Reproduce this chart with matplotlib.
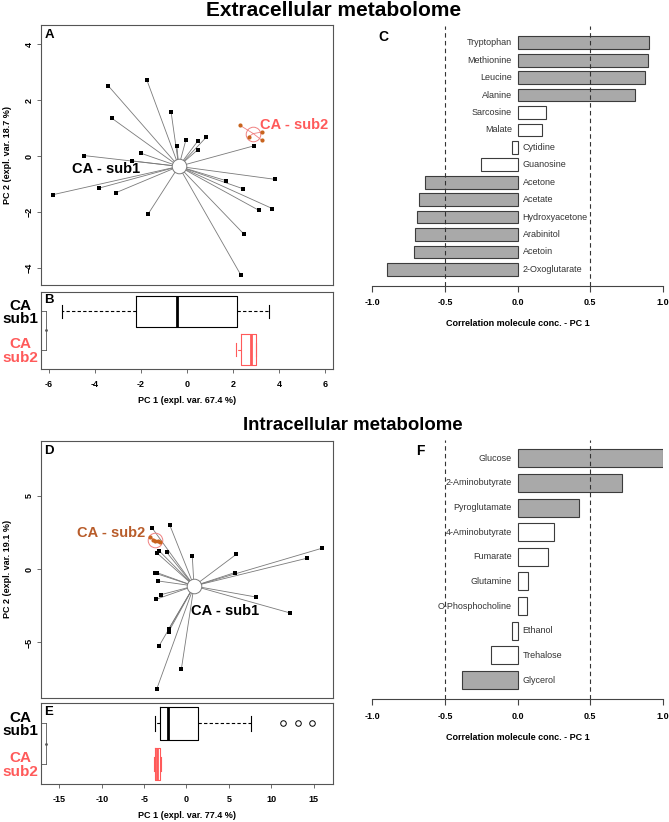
import numpy as np
import matplotlib
matplotlib.use("Agg")
import matplotlib.pyplot as plt

plt.rcParams['font.family'] = ['Liberation Sans', 'DejaVu Sans']

# ---- extracellular PCA scores (PC1, PC2) ----
ext_sub1_pc1 = [-5.83, -4.47, -3.80, -3.42, -3.25, -3.09, -2.37, -1.98, -1.73, -1.68, -0.68, -0.43,
                -0.04, 0.48, 0.48, 0.84, 1.72, 2.46, 2.49, 2.36, 2.93, 3.12, 3.71, 3.84]
ext_sub1_pc2 = [-1.38, 0.02, -1.14, 2.52, 1.35, -1.31, -0.17, 0.10, 2.71, -2.07, 1.57, 0.37,
                0.57, 0.54, 0.23, 0.67, -0.88, -1.17, -2.79, -4.26, 0.37, -1.93, -1.87, -0.83]
ext_sub2_pc1 = [2.31, 2.70, 3.27, 3.27]
ext_sub2_pc2 = [1.10, 0.70, 0.86, 0.56]

# boxplot summary of PC1
ext_box_sub1 = dict(whislo=-5.42, q1=-2.21, med=-0.43, q3=2.18, whishi=3.56, fliers=[])
ext_box_sub2 = dict(whislo=2.15, q1=2.36, med=2.78, q3=3.00, whishi=3.02, fliers=[])

# ---- intracellular PCA scores ----
int_sub1_pc1 = [-4.03, -1.98, -3.44, -3.24, -2.34, 0.68, 5.87, 15.94, 14.17, 5.68, 1.32, 8.16,
                12.20, -3.68, -3.48, -3.32, -2.97, -3.60, -2.10, -2.10, -3.24, -0.61, -3.51]
int_sub1_pc2 = [2.80, 3.03, 1.09, 1.27, 1.16, 0.93, 1.02, 1.43, 0.75, -0.23, -0.98, -1.89,
                -2.98, -0.27, -0.23, -0.80, -1.73, -2.05, -4.08, -4.26, -5.24, -6.83, -8.18]
int_sub2_pc1 = [-4.30, -3.99, -3.68, -3.40, -3.13]
int_sub2_pc2 = [2.19, 2.00, 1.95, 1.93, 1.86]

int_box_sub1 = dict(whislo=-3.68, q1=-3.16, med=-2.15, q3=1.36, whishi=7.60, fliers=[11.34, 13.18, 14.83])
int_box_sub2 = dict(whislo=-3.85, q1=-3.70, med=-3.45, q3=-3.10, whishi=-2.95, fliers=[])

# ---- correlations with PC1 ----
ext_names = ["Tryptophan", "Methionine", "Leucine", "Alanine", "Sarcosine", "Malate", "Cytidine",
             "Guanosine", "Acetone", "Acetate", "Hydroxyacetone", "Arabinitol", "Acetoin", "2-Oxoglutarate"]
ext_corr = [0.905, 0.90, 0.875, 0.806, 0.195, 0.172, -0.037, -0.248, -0.634, -0.675, -0.691, -0.705, -0.716, -0.898]
ext_sig = [1, 1, 1, 1, 0, 0, 0, 0, 1, 1, 1, 1, 1, 1]

int_names = ["Glucose", "2-Aminobutyrate", "Pyroglutamate", "4-Aminobutyrate", "Fumarate", "Glutamine",
             "O-Phosphocholine", "Ethanol", "Trehalose", "Glycerol"]
int_corr = [1.0, 0.719, 0.422, 0.248, 0.207, 0.069, 0.062, -0.041, -0.181, -0.383]
int_sig = [1, 1, 1, 0, 0, 0, 0, 0, 0, 1]

W, H = 669, 822
fig = plt.figure(figsize=(W / 100, H / 100), dpi=100)

FRAME = '#555555'
SUB2_PT = '#c8641e'
SUB2_RED = '#ff5a5a'


def add_ax(x0, y0, x1, y1):
    return fig.add_axes([x0 / W, 1 - y1 / H, (x1 - x0) / W, (y1 - y0) / H])


def pca_panel(ax, s1x, s1y, s2x, s2y, xlim, ylim, yticks, ylabel, letter,
              lab1_xy, lab1_ha, lab2_xy, lab2_ha, lab2_col):
    c1 = (np.mean(s1x), np.mean(s1y))
    c2 = (np.mean(s2x), np.mean(s2y))
    for x, y in zip(s1x, s1y):
        ax.plot([c1[0], x], [c1[1], y], color='#7a7a7a', lw=0.6, zorder=1)
    ax.scatter(s1x, s1y, marker='s', s=11, color='black', lw=0, zorder=3)
    ax.plot(*c1, 'o', ms=10.5, mfc='white', mec='#7a7a7a', mew=0.7, zorder=4)
    for x, y in zip(s2x, s2y):
        ax.plot([c2[0], x], [c2[1], y], color='#f08080', lw=0.6, zorder=1)
    ax.plot(*c2, 'o', ms=10.5, mfc='none', mec='#f08080', mew=0.7, zorder=4)
    ax.scatter(s2x, s2y, marker='o', s=9, color=SUB2_PT, lw=0, zorder=5)
    ax.text(*lab1_xy, "CA - sub1", ha=lab1_ha, va='center', fontsize=10.5, fontweight='bold')
    ax.text(*lab2_xy, "CA - sub2", ha=lab2_ha, va='center', fontsize=10.5, fontweight='bold', color=lab2_col)
    ax.set_xlim(xlim)
    ax.set_ylim(ylim)
    ax.set_xticks([])
    ax.set_yticks(yticks)
    ax.tick_params(axis='y', length=3, width=0.6, color=FRAME, labelsize=6.5, pad=2, labelrotation=90)
    for t in ax.get_yticklabels():
        t.set_fontweight('bold')
        t.set_va('center')
    ax.set_ylabel(ylabel, fontsize=6.5, fontweight='bold', va='center')
    ax.yaxis.set_label_coords(-0.115, 0.5)
    for s in ax.spines.values():
        s.set_color(FRAME)
        s.set_linewidth(0.8)
    ax.text(0.012, 0.985, letter, transform=ax.transAxes, ha='left', va='top', fontsize=9.5, fontweight='bold')


def box_panel(ax, st1, st2, xlim, xticks, xlabel, letter):
    whisk = dict(ls=(0, (3, 2)), lw=0.8)
    ax.bxp([st1], positions=[1], orientation='horizontal', widths=0.8, capwidths=0.35,
           boxprops=dict(color='black', lw=0.8), whiskerprops=dict(color='black', **whisk),
           capprops=dict(color='black', lw=0.8), medianprops=dict(color='black', lw=2),
           flierprops=dict(marker='o', mfc='none', mec='black', ms=4, mew=0.7))
    ax.bxp([st2], positions=[2], orientation='horizontal', widths=0.8, capwidths=0.35,
           boxprops=dict(color=SUB2_RED, lw=0.8), whiskerprops=dict(color=SUB2_RED, **whisk),
           capprops=dict(color=SUB2_RED, lw=0.8), medianprops=dict(color=SUB2_RED, lw=2))
    ax.set_xlim(xlim)
    ax.set_ylim(2.5, 0.5)
    ax.set_xticks(xticks)
    ax.set_xticklabels([f"{v:g}" for v in xticks], fontsize=6.5, fontweight='bold')
    ax.tick_params(axis='x', length=3, width=0.6, color=FRAME, pad=5)
    ax.set_xlabel(xlabel, fontsize=6.5, fontweight='bold', labelpad=5)
    ax.set_yticks([1, 2])
    ax.set_yticklabels(["CA\nsub1", "CA\nsub2"], fontsize=11, fontweight='bold', linespacing=0.95)
    ax.tick_params(axis='y', length=0, pad=2)
    for t, c in zip(ax.get_yticklabels(), ['black', SUB2_RED]):
        t.set_color(c)
        t.set_multialignment('center')
    # R-like inner y axis line
    tr = ax.get_yaxis_transform()
    ax.plot([0.017, 0.017], [1, 2], color=FRAME, lw=0.6, transform=tr, clip_on=False)
    for p in (1, 2):
        ax.plot([0, 0.017], [p, p], color=FRAME, lw=0.6, transform=tr, clip_on=False)
    ax.plot([0.017], [1.5], marker='.', ms=2, color=FRAME, transform=tr)
    for s in ax.spines.values():
        s.set_color(FRAME)
        s.set_linewidth(0.8)
    ax.text(0.012, 0.97, letter, transform=ax.transAxes, ha='left', va='top', fontsize=9.5, fontweight='bold')


def bar_panel(ax, names, vals, sig, letter, letter_x, ylim):
    pos = np.arange(len(names))
    cols = ['#a9a9a9' if s else 'white' for s in sig]
    ax.barh(pos, vals, height=0.73, color=cols, edgecolor='#3c3c3c', lw=0.8, zorder=2)
    for p, v, n in zip(pos, vals, names):
        if v >= 0:
            ax.text(-0.038, p, n, ha='right', va='center', fontsize=6.5, color='#333333')
        else:
            ax.text(0.036, p, n, ha='left', va='center', fontsize=6.5, color='#333333')
    for xv in (-0.5, 0.5):
        ax.axvline(xv, color='#333333', lw=0.8, ls=(0, (4, 3)), zorder=3)
    ax.set_xlim(-1, 1)
    ax.set_ylim(ylim)
    ax.set_yticks([])
    xt = [-1.0, -0.5, 0.0, 0.5, 1.0]
    ax.set_xticks(xt)
    ax.set_xticklabels([f"{v:.1f}" for v in xt], fontsize=6.5, fontweight='bold')
    ax.tick_params(axis='x', length=4, width=0.8, color='#444444', pad=5)
    ax.set_xlabel("Correlation molecule conc. - PC 1", fontsize=6.5, fontweight='bold', labelpad=8.8)
    for k in ('left', 'top', 'right'):
        ax.spines[k].set_visible(False)
    ax.spines['bottom'].set_bounds(-1, 1)
    ax.spines['bottom'].set_color('#444444')
    ax.spines['bottom'].set_linewidth(0.8)
    ax.text(letter_x, 0.985, letter, transform=ax.transAxes, ha='left', va='top', fontsize=10, fontweight='bold')


# titles
fig.text(333.5 / W, 1 - 11 / H, "Extracellular metabolome", ha='center', va='center', fontsize=15, fontweight='bold')
fig.text(353 / W, 1 - 425 / H, "Intracellular metabolome", ha='center', va='center', fontsize=13.4, fontweight='bold')

axA = add_ax(41, 25, 333, 285)
pca_panel(axA, ext_sub1_pc1, ext_sub1_pc2, ext_sub2_pc1, ext_sub2_pc2,
          (-6.33, 6.35), (-4.6, 4.68), [-4, -2, 0, 2, 4], "PC 2 (expl. var. 18.7 %)", "A",
          (-3.5, -0.46), 'center', (3.18, 1.1), 'left', SUB2_RED)

axB = add_ax(41, 292, 333, 369)
box_panel(axB, ext_box_sub1, ext_box_sub2, (-6.33, 6.35), [-6, -4, -2, 0, 2, 4, 6],
          "PC 1 (expl. var. 67.4 %)", "B")

axC = add_ax(372.3, 26, 662.7, 285.7)
bar_panel(axC, ext_names, ext_corr, ext_sig, "C", 0.022, (13.94, -0.96))

axD = add_ax(41, 440.7, 333, 698)
pca_panel(axD, int_sub1_pc1, int_sub1_pc2, int_sub2_pc1, int_sub2_pc2,
          (-17.16, 17.28), (-8.79, 8.78), [-5, 0, 5], "PC 2 (expl. var. 19.1 %)", "D",
          (0.5, -2.85), 'left', (-4.89, 2.48), 'right', '#b85c2a')

axE = add_ax(41, 703.3, 333, 784)
box_panel(axE, int_box_sub1, int_box_sub2, (-17.16, 17.28), [-15, -10, -5, 0, 5, 10, 15],
          "PC 1 (expl. var. 77.4 %)", "E")

axF = add_ax(372.3, 440, 662.7, 699)
bar_panel(axF, int_names, int_corr, int_sig, "F", 0.15, (9.77, -0.74))

fig.savefig("out.png", dpi=100)
